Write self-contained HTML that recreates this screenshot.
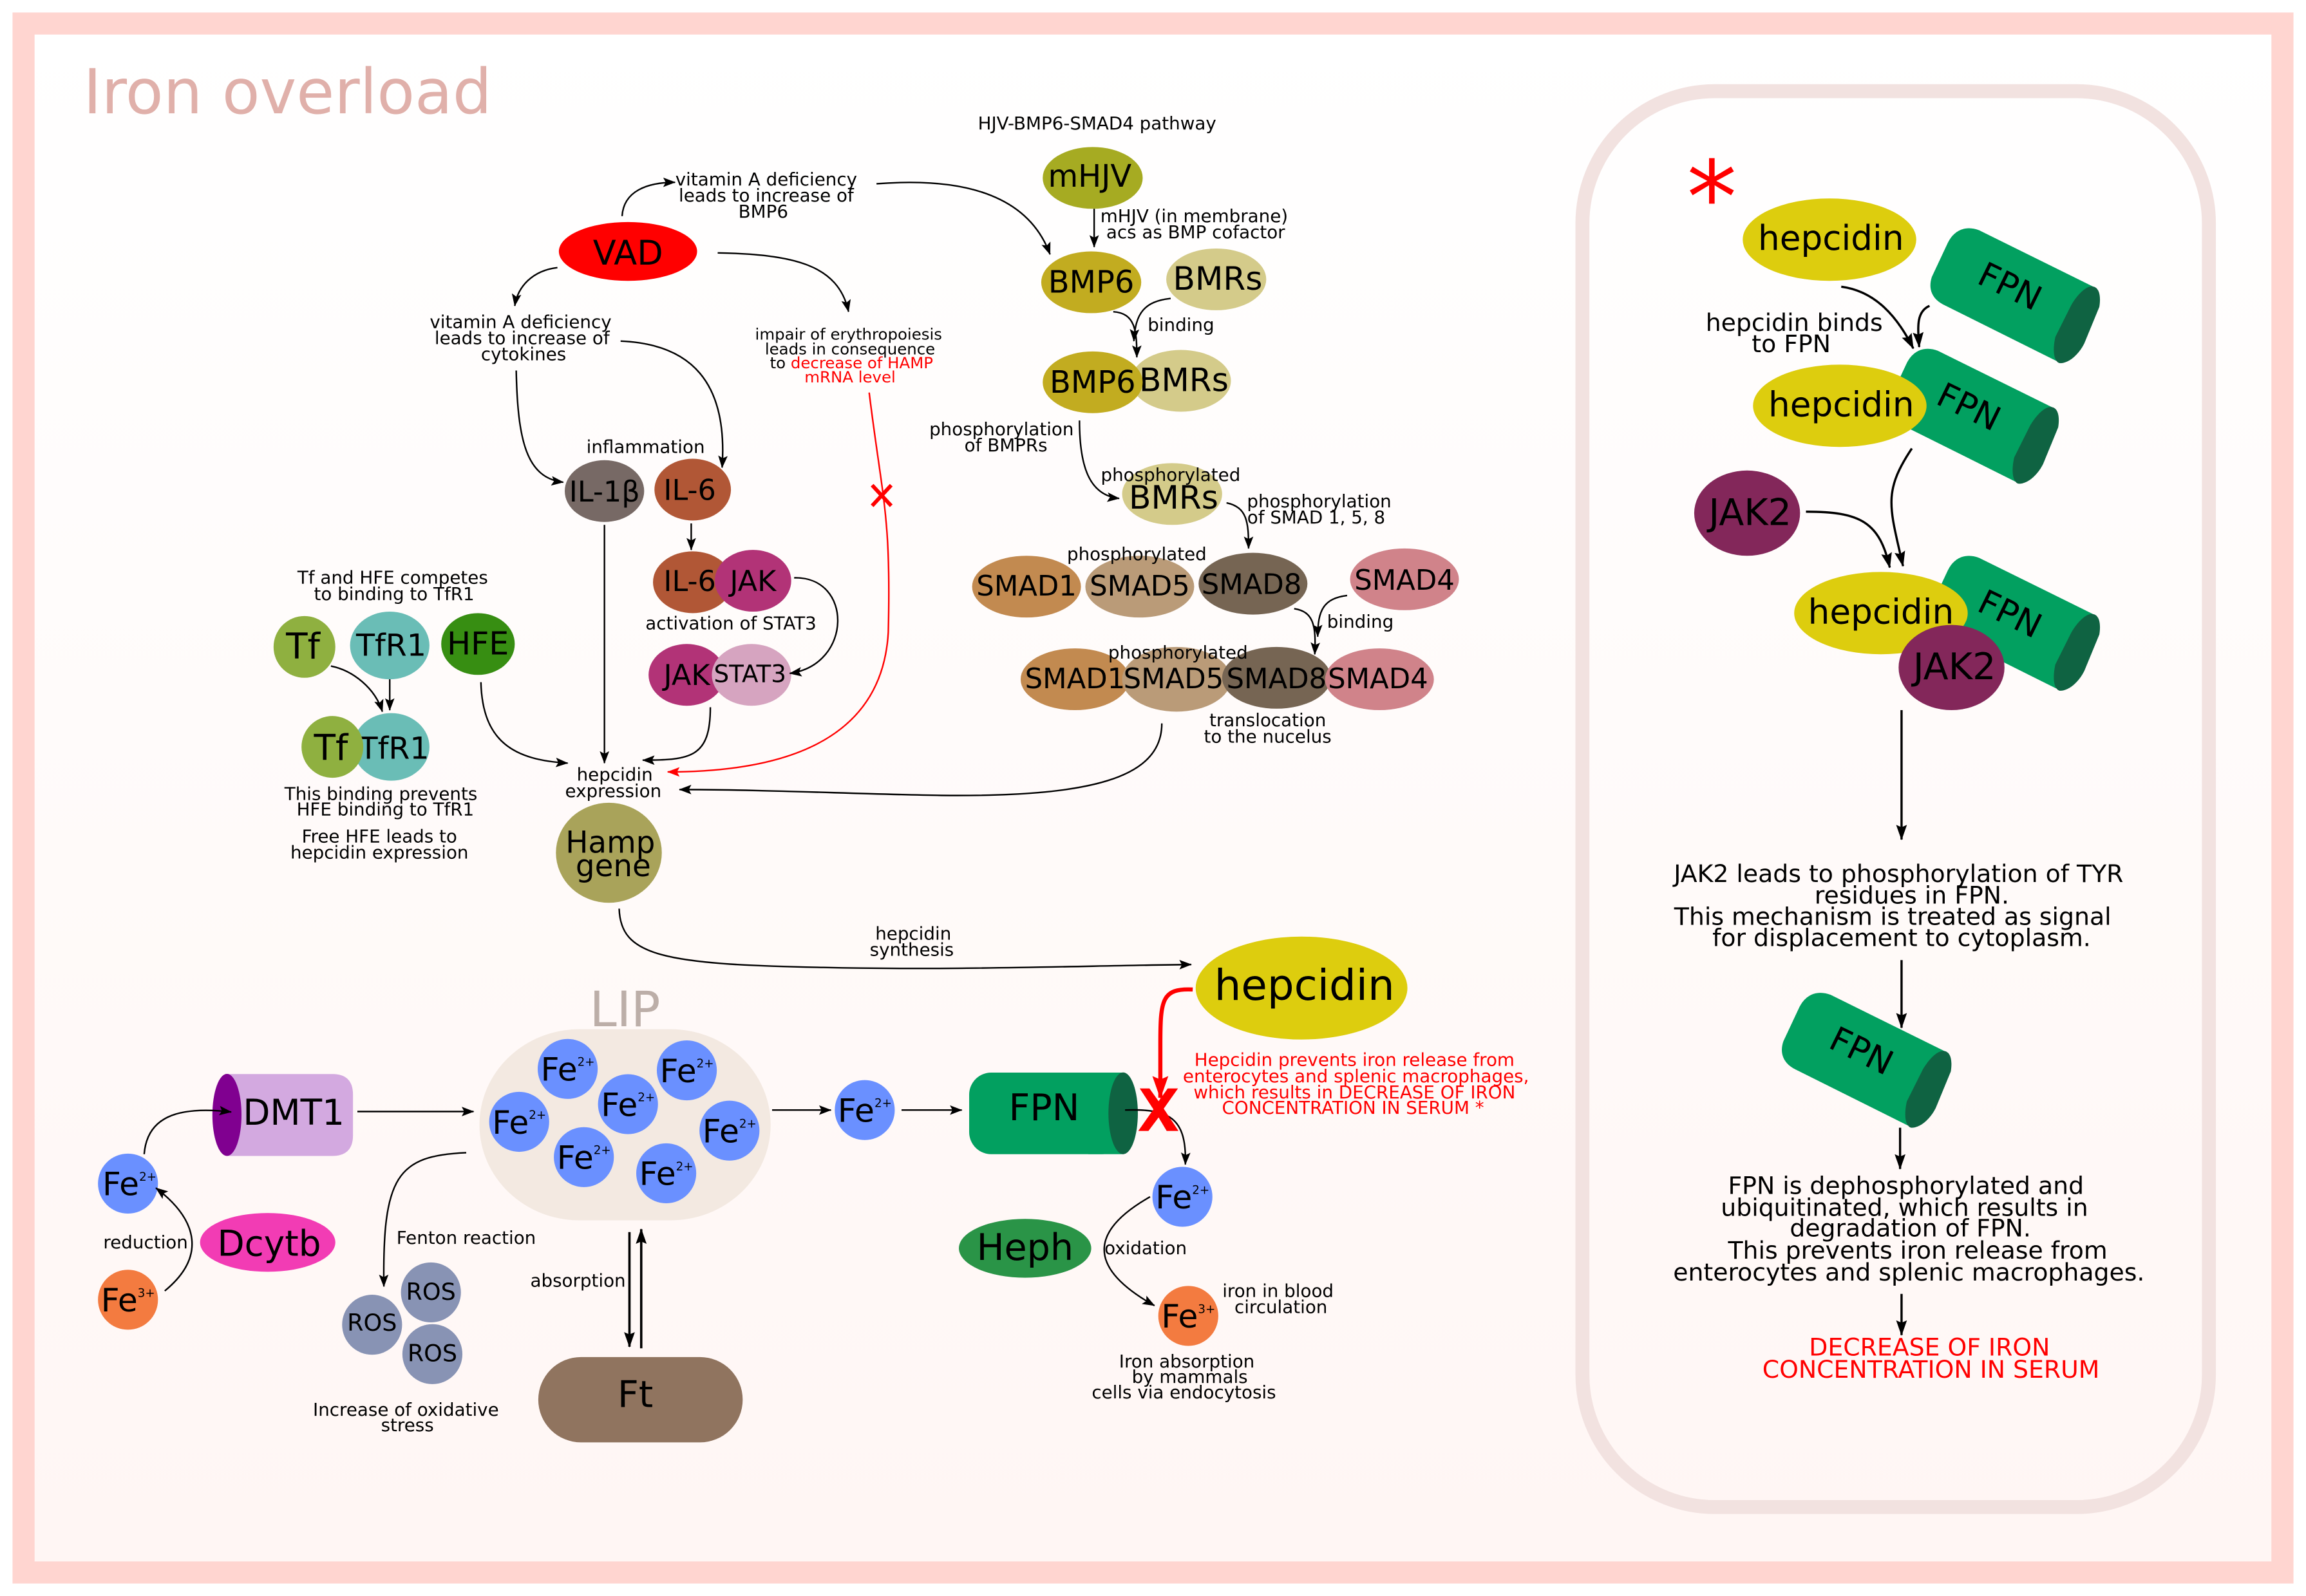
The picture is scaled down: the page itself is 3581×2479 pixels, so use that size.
<!DOCTYPE html>
<html><head><meta charset="utf-8"><style>
html,body{margin:0;padding:0;background:#fff}
svg{display:block}
text{font-family:"DejaVu Sans","Liberation Sans",sans-serif;text-anchor:middle;fill:#000}
.s text{font-size:12.15px}
.xs text{font-size:10.7px}
.a{fill:none;stroke:#000;stroke-width:1.05;marker-end:url(#m)}
.b{fill:none;stroke:#000;stroke-width:1.5;marker-end:url(#mb)}
.n{font-size:21px}
.c{font-size:19.5px}
.r{font-size:22px}
.sm{font-size:19px}
.fe{font-size:22px}
.fe tspan{font-size:8px}
.rt text{font-size:16.55px}
</style></head><body>
<svg xmlns="http://www.w3.org/2000/svg" width="3581" height="2479" viewBox="0 0 1568 1085.5">
<defs>
<linearGradient id="g" x1="0" y1="0" x2="0" y2="1"><stop offset="0" stop-color="#ffffff"/><stop offset="1" stop-color="#fff6f4"/></linearGradient>
<marker id="m" markerUnits="userSpaceOnUse" viewBox="0 0 10 10" refX="9.5" refY="5" markerWidth="8.5" markerHeight="8.5" orient="auto"><path d="M0,1.200 L10,5 L0,8.800 L2,5Z" fill="#000"/></marker>
<marker id="mr" markerUnits="userSpaceOnUse" viewBox="0 0 10 10" refX="9.5" refY="5" markerWidth="8.5" markerHeight="8.5" orient="auto"><path d="M0,1.200 L10,5 L0,8.800 L2,5Z" fill="#f00"/></marker>
<marker id="mb" markerUnits="userSpaceOnUse" viewBox="0 0 10 10" refX="9.5" refY="5" markerWidth="10.500" markerHeight="10.500" orient="auto"><path d="M0,1.500 L10,5 L0,8.500 L1.500,5Z" fill="#000"/></marker>
<marker id="mR" markerUnits="userSpaceOnUse" viewBox="0 0 10 10" refX="9.5" refY="5" markerWidth="15.500" markerHeight="15.500" orient="auto"><path d="M0,1.500 L10,5 L0,8.500 L1.500,5Z" fill="#f00"/></marker>
<g id="fpn">
<path d="M340,113 L870,375 L700,722 L175,460 C125,435 100,390 120,330 L195,170 C225,110 280,90 340,113Z" fill="#02a060"/>
<path d="M870,375 C900,380 908,420 900,470 L830,640 C800,700 750,735 715,732 C690,725 680,680 695,610 L770,460 C800,410 840,370 870,375Z" fill="#0f6342"/>
<text transform="translate(485,372) rotate(26)" y="57" style="font-size:158px">FPN</text>
</g>
</defs>
<rect x="16" y="16" width="1536" height="1053.5" fill="url(#g)" stroke="#ffd5d0" stroke-width="15"/>
<text x="195.500" y="77" style="font-size:42px;fill:#e0b0aa">Iron overload</text>
<rect x="1076" y="62" width="426" height="963" rx="90" ry="90" fill="none" stroke="#f2e2e0" stroke-width="9.500"/>

<!-- top-left nodes -->
<ellipse cx="427" cy="171" rx="47" ry="20" fill="#f00"/><text x="427" y="180" style="font-size:23px">VAD</text>
<ellipse cx="411" cy="334" rx="27" ry="21" fill="#776965"/><text x="411" y="341" class="c">IL-1β</text>
<ellipse cx="471" cy="333" rx="26" ry="21" fill="#b15736"/><text x="469" y="340" class="c">IL-6</text>
<ellipse cx="471" cy="396" rx="27" ry="21" fill="#b15736"/><text x="469" y="402" class="c">IL-6</text>
<ellipse cx="512" cy="395" rx="26" ry="21" fill="#b23377"/><text x="512" y="402" class="c">JAK</text>
<ellipse cx="467" cy="459" rx="26" ry="21" fill="#b23377"/><text x="467" y="466" class="c">JAK</text>
<ellipse cx="511" cy="459" rx="27" ry="21" fill="#d6a4c0"/><text x="510" y="464" style="font-size:16.300px">STAT3</text>
<ellipse cx="207" cy="440" rx="21" ry="21" fill="#8fb040"/><text x="206" y="448" style="font-size:24px">Tf</text>
<ellipse cx="265" cy="439" rx="27" ry="23" fill="#6abdb6"/><text x="266" y="446" style="font-size:20.800px">TfR1</text>
<ellipse cx="325" cy="438" rx="25" ry="21" fill="#378e12"/><text x="325" y="445" style="font-size:21.500px">HFE</text>
<ellipse cx="266" cy="508" rx="26" ry="23" fill="#6abdb6"/><text x="268" y="516" style="font-size:20.800px">TfR1</text>
<ellipse cx="226" cy="508" rx="21" ry="21" fill="#8fb040"/><text x="225" y="517" style="font-size:24px">Tf</text>
<ellipse cx="414" cy="580" rx="36" ry="34" fill="#a9a35a"/><text x="415" y="580" style="font-size:20.500px">Hamp</text><text x="417" y="596" style="font-size:20.500px">gene</text>

<!-- pathway nodes -->
<ellipse cx="743" cy="121" rx="34" ry="21" fill="#a6ab22"/><text x="741" y="127" class="n">mHJV</text>
<ellipse cx="742" cy="192" rx="34" ry="21" fill="#c2ac20"/><text x="742" y="199" class="n">BMP6</text>
<ellipse cx="827" cy="190" rx="34" ry="21" fill="#d4cb8a"/><text x="828" y="197" class="r">BMRs</text>
<ellipse cx="803" cy="259" rx="34" ry="21" fill="#d4cb8a"/><text x="805" y="266" class="r">BMRs</text>
<ellipse cx="743" cy="260" rx="34" ry="21" fill="#c2ac20"/><text x="743" y="267" class="n">BMP6</text>
<ellipse cx="797" cy="336" rx="34" ry="21" fill="#d4cb8a"/><text x="798" y="346" class="r">BMRs</text>
<ellipse cx="698" cy="399" rx="37" ry="21" fill="#c28a50"/><text x="698" y="405" class="sm">SMAD1</text>
<ellipse cx="775" cy="399" rx="37" ry="21" fill="#ba9b78"/><text x="775" y="405" class="sm">SMAD5</text>
<ellipse cx="852" cy="397" rx="37" ry="21" fill="#766553"/><text x="851" y="404" class="sm">SMAD8</text>
<ellipse cx="955" cy="394" rx="37" ry="21" fill="#d0838a"/><text x="955" y="401" class="sm">SMAD4</text>
<ellipse cx="731" cy="462" rx="37" ry="21" fill="#c28a50"/>
<ellipse cx="800" cy="462" rx="37" ry="22" fill="#ba9b78"/>
<ellipse cx="868" cy="461" rx="37" ry="21" fill="#766553"/>
<ellipse cx="938" cy="462" rx="37" ry="21" fill="#d0838a"/>
<text x="731" y="468" class="sm">SMAD1</text><text x="798" y="468" class="sm">SMAD5</text><text x="868" y="468" class="sm">SMAD8</text><text x="937" y="468" class="sm">SMAD4</text>

<!-- lower nodes -->
<ellipse cx="885" cy="672" rx="72" ry="35" fill="#ddcd0e"/><text x="887" y="680" style="font-size:28.800px">hepcidin</text>
<text x="425" y="698" style="font-size:33px;fill:#bcaea8">LIP</text>
<rect x="326" y="700" width="198" height="130" rx="68" ry="65" fill="#f3e9e1"/>
<g fill="#6a90ff">
<circle cx="386" cy="727" r="20.400"/><circle cx="467" cy="728" r="20.400"/><circle cx="353" cy="763" r="20.400"/><circle cx="427" cy="751" r="20.400"/><circle cx="496" cy="769" r="20.400"/><circle cx="397" cy="787" r="20.400"/><circle cx="453" cy="798" r="20.400"/><circle cx="588" cy="755" r="20.400"/><circle cx="87" cy="805" r="20.400"/><circle cx="804" cy="814" r="20.400"/></g>
<g fill="#f37b40"><circle cx="87" cy="884" r="20.400"/><circle cx="808" cy="895" r="20.400"/></g>
<text class="fe" x="386" y="735">Fe<tspan dy="-10">2+</tspan></text>
<text class="fe" x="467" y="736">Fe<tspan dy="-10">2+</tspan></text>
<text class="fe" x="353" y="771">Fe<tspan dy="-10">2+</tspan></text>
<text class="fe" x="427" y="759">Fe<tspan dy="-10">2+</tspan></text>
<text class="fe" x="496" y="777">Fe<tspan dy="-10">2+</tspan></text>
<text class="fe" x="397" y="795">Fe<tspan dy="-10">2+</tspan></text>
<text class="fe" x="453" y="806">Fe<tspan dy="-10">2+</tspan></text>
<text class="fe" x="588" y="763">Fe<tspan dy="-10">2+</tspan></text>
<text class="fe" x="88" y="813">Fe<tspan dy="-10">2+</tspan></text>
<text class="fe" x="804" y="822">Fe<tspan dy="-10">2+</tspan></text>
<text class="fe" x="87" y="892">Fe<tspan dy="-10">3+</tspan></text>
<text class="fe" x="808" y="903">Fe<tspan dy="-10">3+</tspan></text>
<path d="M154.300,730.500 H226 Q240,730.500 240,744.500 V772.200 Q240,786.200 226,786.200 H154.300Z" fill="#d3a9e0"/>
<ellipse cx="154.300" cy="758.300" rx="9.900" ry="27.900" fill="#800090"/>
<text x="199.700" y="765" style="font-size:24px">DMT1</text>
<ellipse cx="182" cy="845" rx="46" ry="20" fill="#f23cb4"/><text x="183" y="854" style="font-size:24px">Dcytb</text>
<g fill="#8893b4"><circle cx="253" cy="901" r="20.400"/><circle cx="293" cy="879" r="20.400"/><circle cx="294" cy="921" r="20.400"/></g>
<text x="253" y="905" style="font-size:16px">ROS</text><text x="293" y="884" style="font-size:16px">ROS</text><text x="294" y="926" style="font-size:16px">ROS</text>
<rect x="366" y="923" width="139" height="58" rx="29" ry="29" fill="#90745f"/><text x="432" y="957" style="font-size:25px">Ft</text>
<rect x="659" y="729.500" width="105" height="55.500" rx="15" ry="15" fill="#02a060"/><rect x="740" y="729.500" width="24" height="55.500" fill="#02a060"/>
<ellipse cx="763.700" cy="757.200" rx="10" ry="27.800" fill="#0f6342"/>
<text x="710" y="762" style="font-size:25px">FPN</text>
<ellipse cx="697" cy="849" rx="45" ry="20" fill="#2a9447"/><text x="697" y="857" style="font-size:25px">Heph</text>

<!-- right panel -->
<text x="1164" y="158" style="font-size:68px;fill:#f00">*</text>
<use href="#fpn" transform="translate(1296.100,140.100) scale(.146)"/>
<ellipse cx="1244" cy="163" rx="59" ry="28" fill="#ddcd0e"/><text x="1245" y="170" style="font-size:23.300px">hepcidin</text>
<use href="#fpn" transform="translate(1268.100,222.100) scale(.146)"/>
<ellipse cx="1251" cy="276" rx="59" ry="28" fill="#ddcd0e"/><text x="1252" y="283" style="font-size:23.300px">hepcidin</text>
<ellipse cx="1188" cy="349" rx="36" ry="29" fill="#83275a"/><text x="1190" y="357" style="font-size:25px">JAK2</text>
<use href="#fpn" transform="translate(1296.100,362.900) scale(.146)"/>
<ellipse cx="1279" cy="417" rx="59" ry="28" fill="#ddcd0e"/><text x="1279" y="424" style="font-size:23.300px">hepcidin</text>
<ellipse cx="1327" cy="454" rx="36" ry="29" fill="#83275a"/><text x="1329" y="462" style="font-size:25px">JAK2</text>
<use href="#fpn" transform="translate(1195.100,660.100) scale(.146)"/>

<!-- connectors -->
<path class="a" d="M423,147 C424,130 440,124 459,124"/>
<path class="a" d="M379,182 C362,184 352,195 350,208"/>
<path class="a" d="M488,172 C540,173 570,180 577,212"/>
<path class="a" d="M596,125 C660,120 700,135 714,173"/>
<path class="a" d="M422,232 C470,234 495,260 491,318"/>
<path class="a" d="M351,252 C352,300 358,325 383,328"/>
<path class="a" d="M411,357 L411,519"/>
<path class="a" d="M470,356 L470,374"/>
<path class="a" d="M540,393 C580,392 580,452 537,458"/>
<path class="a" d="M483,481 C483,515 470,517 437,517"/>
<path class="a" d="M225,453 C240,456 255,468 260,484"/>
<path class="a" d="M265,462 L265,483"/>
<path class="a" d="M327,464 C328,505 350,517 386,519"/>
<path d="M591,267 C600,340 606,350 604,430 C600,500 540,525 454,525" fill="none" stroke="#f00" stroke-width="1.050" marker-end="url(#mr)"/>
<path class="a" d="M790,492 C790,530 740,542 640,541 C580,540 520,537 462,537"/>
<path class="a" d="M421,618 C422,650 450,656 560,658 C650,660 730,657 810,656"/>
<path class="a" d="M744,142 L744,168"/>
<path class="a" d="M757,212 C772,213 773,225 773,243"/>
<path class="a" d="M796,203 C778,205 772,213 771,232"/>
<path class="a" d="M734,286 C734,320 742,337 761,339"/>
<path class="a" d="M834,342 C848,345 849,355 849,373"/>
<path class="a" d="M880,414 C893,416 895,425 894,445"/>
<path class="a" d="M916,405 C900,407 896,415 896,433"/>
<path class="a" d="M98,785 C100,760 120,752 157.200,756.300"/>
<path class="a" d="M243,756 L322,756"/>
<path class="a" d="M112,878 C140,855 135,830 106,808"/>
<path class="a" d="M317,784 C270,786 260,800 261,875"/>
<path class="a" style="stroke-width:1.600;marker-end:url(#mb)" d="M428,838 L428,916"/>
<path class="a" style="stroke-width:1.600;marker-end:url(#mb)" d="M436,917 L436,836"/>
<path class="a" d="M525,755 L565,755"/>
<path class="a" d="M613,755 L654,755"/>
<path class="a" d="M765,755 C795,754 807,760 806,792"/>
<path d="M775,740.300 L781.600,740.300 L787.800,749 L794,740.300 L801,740.300 L791.300,754 L801.300,769.200 L793.300,769.200 L787.800,760 L780.900,769.200 L774,769.200 L784.300,754.500Z" fill="#f00"/>
<path d="M593,330 L606,344 M606,330 L593,344" stroke="#f00" stroke-width="2.600" fill="none"/>
<path d="M811,673 C790,672 789,680 789,710 L789,746.600" fill="none" stroke="#f00" stroke-width="2.800" marker-end="url(#mR)"/>
<path class="a" d="M782,814 C745,835 735,860 785,888"/>
<path class="b" d="M1252,195 C1275,198 1290,215 1301,237"/>
<path class="b" d="M1312,208 C1303,212 1304,222 1305,236"/>
<path class="b" d="M1300,305 C1280,335 1285,345 1294,385"/>
<path class="b" d="M1228,348 C1265,348 1278,355 1285,386"/>
<path class="b" d="M1293,483 L1293,571"/>
<path class="b" d="M1293,653 L1293,699"/>
<path class="b" d="M1292,767 L1292,795"/>
<path class="b" d="M1293,880 L1293,908"/>

<!-- labels -->
<g class="s">
<text x="746" y="88">HJV-BMP6-SMAD4 pathway</text>
<text x="521" y="126">vitamin A deficiency</text><text x="521" y="137">leads to increase of</text><text x="519" y="148">BMP6</text>
<text x="812" y="151">mHJV (in membrane)</text><text x="813" y="162">acs as BMP cofactor</text>
<text x="803" y="225">binding</text>
<text x="354" y="223">vitamin A deficiency</text><text x="355" y="234">leads to increase of</text><text x="356" y="245">cytokines</text>
<text x="439" y="308">inflammation</text>
<text x="497" y="428">activation of STAT3</text>
<text x="267" y="397">Tf and HFE competes</text><text x="268" y="408">to binding to TfR1</text>
<text x="259" y="544">This binding prevents</text><text x="262" y="554.500">HFE binding to TfR1</text>
<text x="258" y="573">Free HFE leads to</text><text x="258" y="584">hepcidin expression</text>
<text x="418" y="531">hepcidin</text><text x="417" y="542">expression</text>
<text x="681" y="296">phosphorylation</text><text x="684" y="307">of BMPRs</text>
<text x="796" y="327">phosphorylated</text>
<text x="897" y="345">phosphorylation</text><text x="895" y="356">of SMAD 1, 5, 8</text>
<text x="773" y="381">phosphorylated</text>
<text x="801" y="448">phosphorylated</text>
<text x="862" y="494">translocation</text><text x="862" y="505">to the nucelus</text>
<text x="925" y="427">binding</text>
<text x="621" y="639">hepcidin</text><text x="620" y="650">synthesis</text>
<text x="779" y="853">oxidation</text>
<text x="869" y="882">iron in blood</text><text x="871" y="893">circulation</text>
<text x="807" y="930">Iron absorption</text><text x="809" y="940.500">by mammals</text><text x="805" y="951">cells via endocytosis</text>
<text x="99" y="849">reduction</text>
<text x="317" y="846">Fenton reaction</text>
<text x="393" y="875">absorption</text>
<text x="276" y="963">Increase of oxidative</text><text x="277" y="973.500">stress</text>
<text x="921" y="725" style="fill:#f00">Hepcidin prevents iron release from</text>
<text x="922" y="736" style="fill:#f00">enterocytes and splenic macrophages,</text>
<text x="921" y="747" style="fill:#f00">which results in DECREASE OF IRON</text>
<text x="920" y="757.500" style="fill:#f00">CONCENTRATION IN SERUM *</text>
</g>
<g class="xs">
<text x="577" y="231">impair of erythropoiesis</text>
<text x="578" y="241">leads in consequence</text>
<text x="579" y="250.500">to <tspan style="fill:#f00">decrease of HAMP</tspan></text>
<text x="578" y="260" style="fill:#f00">mRNA level</text>
</g>
<g class="rt">
<text x="1220" y="225">hepcidin binds</text><text x="1218" y="239.500">to FPN</text>
<text x="1291" y="600">JAK2 leads to phosphorylation of TYR</text>
<text x="1300" y="614.500">residues in FPN.</text>
<text x="1287" y="629">This mechanism is treated as signal</text>
<text x="1293" y="643.500">for displacement to cytoplasm.</text>
<text x="1296" y="812">FPN is dephosphorylated and</text>
<text x="1295" y="827">ubiquitinated, which results in</text>
<text x="1299" y="841">degradation of FPN.</text>
<text x="1304" y="856">This prevents iron release from</text>
<text x="1298" y="871">enterocytes and splenic macrophages.</text>
<text x="1312" y="922" style="fill:#f00">DECREASE OF IRON</text>
<text x="1313" y="937" style="fill:#f00">CONCENTRATION IN SERUM</text>
</g>
</svg>
</body></html>
